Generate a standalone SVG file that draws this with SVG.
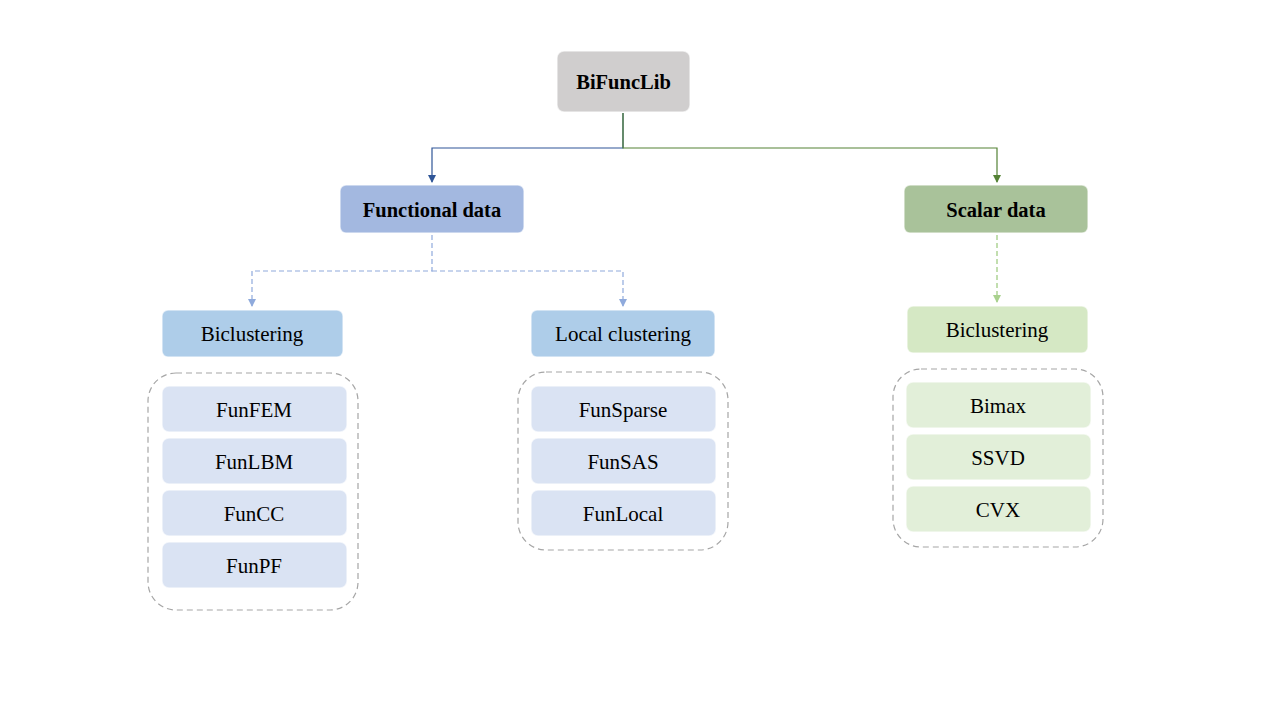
<svg xmlns="http://www.w3.org/2000/svg" width="1280" height="720" viewBox="0 0 1280 720">
<defs>
<style>
text{font-family:"Liberation Serif","Times New Roman",serif;text-anchor:middle;dominant-baseline:central;fill:#000}
.b{font-weight:bold;font-size:20.5px}
.t{font-size:21px}
.box{stroke:#ffffff;stroke-opacity:0.6;stroke-width:1.5}
.cont{fill:none;stroke:#a6a6a6;stroke-width:1.2;stroke-dasharray:6 4}
</style>
<marker id="ab" markerWidth="8" markerHeight="8" refX="4" refY="7" orient="0" markerUnits="userSpaceOnUse"><path d="M0,0 L8,0 L4,8 Z" fill="#2f5597"/></marker>
<marker id="ag" markerWidth="8" markerHeight="8" refX="4" refY="7" orient="0" markerUnits="userSpaceOnUse"><path d="M0,0 L8,0 L4,8 Z" fill="#548235"/></marker>
<marker id="alb" markerWidth="8" markerHeight="8" refX="4" refY="7" orient="0" markerUnits="userSpaceOnUse"><path d="M0,0 L8,0 L4,8 Z" fill="#8faadc"/></marker>
<marker id="alg" markerWidth="8" markerHeight="8" refX="4" refY="7" orient="0" markerUnits="userSpaceOnUse"><path d="M0,0 L8,0 L4,8 Z" fill="#a9d18e"/></marker>
</defs>
<rect width="1280" height="720" fill="#ffffff"/>
<g id="connectors" fill="none">
<path d="M623,113 V148 H432 V182" stroke="#2f5597" stroke-width="1.2" marker-end="url(#ab)"/>
<path d="M623,113 V148 H997 V182" stroke="#548235" stroke-width="1.2" marker-end="url(#ag)"/>
<path d="M432,235 V271 H252 V306" stroke="#8faadc" stroke-width="1.2" stroke-dasharray="5 3" marker-end="url(#alb)"/>
<path d="M432,271 H623 V306" stroke="#8faadc" stroke-width="1.2" stroke-dasharray="5 3" marker-end="url(#alb)"/>
<path d="M997,235 V302" stroke="#a9d18e" stroke-width="1.4" stroke-dasharray="5 3" marker-end="url(#alg)"/>
</g>
<g id="n-bifunclib"><rect class="box" x="557" y="51" width="133" height="61" rx="7" fill="#d0cece"/><text class="b" x="623.5" y="82">BiFuncLib</text></g>
<g id="n-functional"><rect class="box" x="340" y="185" width="184" height="48" rx="6" fill="#a3b8e0"/><text class="b" x="432" y="210">Functional data</text></g>
<g id="n-scalar"><rect class="box" x="904" y="185" width="184" height="48" rx="6" fill="#a9c29a"/><text class="b" x="996" y="210">Scalar data</text></g>
<g id="n-biclust-f"><rect class="box" x="162" y="310" width="181" height="47" rx="6" fill="#aecde9"/><text class="t" x="252" y="334">Biclustering</text></g>
<g id="n-local"><rect class="box" x="531" y="310" width="184" height="47" rx="6" fill="#aecde9"/><text class="t" x="623" y="334">Local clustering</text></g>
<g id="n-biclust-s"><rect class="box" x="907" y="306" width="181" height="47" rx="6" fill="#d5e8c4"/><text class="t" x="997" y="330">Biclustering</text></g>
<g id="g-funcbi">
<rect class="cont" x="148" y="373" width="210" height="237" rx="28"/>
<rect class="box" x="162" y="386" width="185" height="46" rx="7" fill="#dae3f3"/><text class="t" x="254" y="410">FunFEM</text>
<rect class="box" x="162" y="438" width="185" height="46" rx="7" fill="#dae3f3"/><text class="t" x="254" y="462">FunLBM</text>
<rect class="box" x="162" y="490" width="185" height="46" rx="7" fill="#dae3f3"/><text class="t" x="254" y="514">FunCC</text>
<rect class="box" x="162" y="542" width="185" height="46" rx="7" fill="#dae3f3"/><text class="t" x="254" y="566">FunPF</text>
</g>
<g id="g-local">
<rect class="cont" x="518" y="372" width="210" height="178" rx="28"/>
<rect class="box" x="531" y="386" width="185" height="46" rx="7" fill="#dae3f3"/><text class="t" x="623" y="410">FunSparse</text>
<rect class="box" x="531" y="438" width="185" height="46" rx="7" fill="#dae3f3"/><text class="t" x="623" y="462">FunSAS</text>
<rect class="box" x="531" y="490" width="185" height="46" rx="7" fill="#dae3f3"/><text class="t" x="623" y="514">FunLocal</text>
</g>
<g id="g-scalarbi">
<rect class="cont" x="893" y="369" width="210" height="178" rx="28"/>
<rect class="box" x="906" y="382" width="185" height="46" rx="7" fill="#e2efd9"/><text class="t" x="998" y="406">Bimax</text>
<rect class="box" x="906" y="434" width="185" height="46" rx="7" fill="#e2efd9"/><text class="t" x="998" y="458">SSVD</text>
<rect class="box" x="906" y="486" width="185" height="46" rx="7" fill="#e2efd9"/><text class="t" x="998" y="510">CVX</text>
</g>
</svg>
